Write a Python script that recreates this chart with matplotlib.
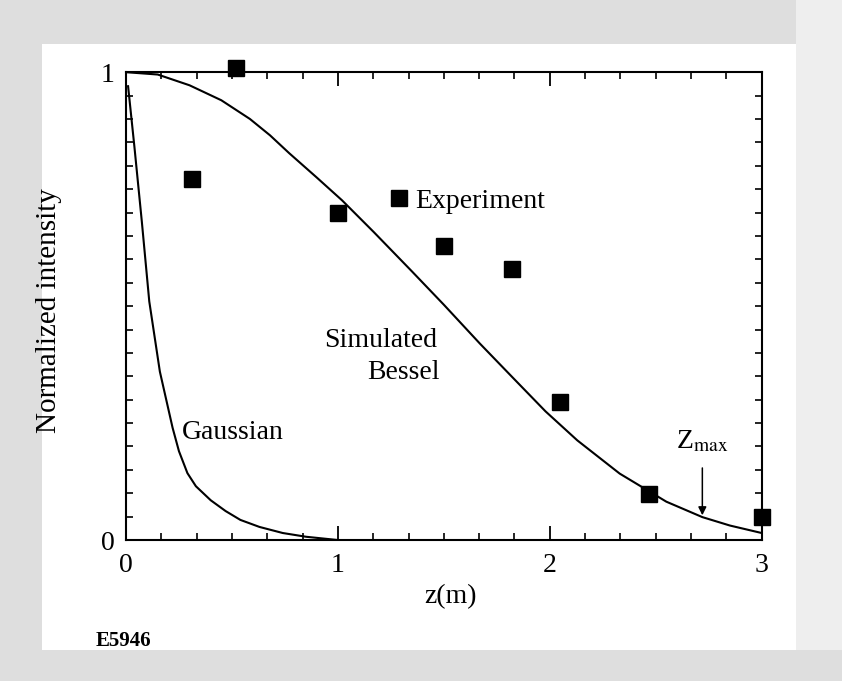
import matplotlib
matplotlib.use("Agg")
import matplotlib.pyplot as plt
from matplotlib.lines import Line2D
from matplotlib.patches import Rectangle
from matplotlib.ticker import FixedLocator, MultipleLocator

# --- data ---
bessel_z = [0.0, 0.15, 0.30, 0.45, 0.585, 0.68, 0.77, 0.90, 1.02, 1.17, 1.35, 1.50,
            1.67, 1.83, 1.98, 2.13, 2.33, 2.55, 2.72, 2.85, 3.0]
bessel_i = [1.0, 0.995, 0.972, 0.94, 0.90, 0.865, 0.827, 0.775, 0.726, 0.658, 0.574, 0.503,
            0.42, 0.345, 0.275, 0.213, 0.142, 0.082, 0.049, 0.031, 0.015]

gauss_z = [0.01, 0.04, 0.075, 0.11, 0.16, 0.22, 0.25, 0.29, 0.33, 0.40, 0.47, 0.54,
           0.63, 0.74, 0.85, 1.0]
gauss_i = [0.97, 0.84, 0.68, 0.51, 0.36, 0.24, 0.19, 0.143, 0.115, 0.085, 0.062, 0.043,
           0.028, 0.015, 0.007, 0.0]

exp_z = [0.31, 0.52, 1.0, 1.50, 1.82, 2.05, 2.47, 3.0]
exp_i = [0.771, 1.01, 0.70, 0.628, 0.579, 0.295, 0.098, 0.049]

x_major = [0, 1, 2, 3]
y_major = [0, 1]
zmax = 2.72

plt.rcParams["font.family"] = ["Liberation Serif", "DejaVu Serif"]
plt.rcParams["mathtext.fontset"] = "stix"

fig = plt.figure(figsize=(8.42, 6.81), dpi=100)

# scanned-page border
for (x0, y0, w, h, c) in [(0, 0.935, 1, 0.065, "#dedede"), (0, 0, 0.05, 1, "#dedede"),
                          (0.945, 0, 0.055, 1, "#eeeeee"), (0, 0, 1, 0.045, "#dedede")]:
    fig.patches.append(Rectangle((x0, y0), w, h, transform=fig.transFigure,
                                 facecolor=c, edgecolor="none", zorder=-1))

ax = fig.add_axes([0.1496, 0.207, 0.755, 0.687])
ax.set_xlim(0, 3)
ax.set_ylim(0, 1)

ax.plot(bessel_z, bessel_i, color="black", lw=1.5)
ax.plot(gauss_z, gauss_i, color="black", lw=1.5)
ax.plot(exp_z, exp_i, ls="none", marker="s", ms=12, color="black", clip_on=False, zorder=5)

for s in ax.spines.values():
    s.set_linewidth(1.5)

ax.xaxis.set_major_locator(FixedLocator(x_major))
ax.xaxis.set_minor_locator(MultipleLocator(1 / 6))
ax.yaxis.set_major_locator(FixedLocator(y_major))
ax.yaxis.set_minor_locator(MultipleLocator(0.05))
ax.tick_params(axis="x", which="major", direction="in", length=10, width=1.3,
               top=True, labelsize=20, pad=9)
ax.tick_params(axis="x", which="minor", direction="in", length=5, width=1.2, top=True)
ax.tick_params(axis="y", which="both", direction="in", length=5, width=1.2,
               right=True, labelsize=20, pad=8)

ax.set_xlabel("z(m)", fontsize=20)
ax.xaxis.set_label_coords(0.51, -0.095)
ax.set_ylabel("Normalized intensity", fontsize=21)
ax.yaxis.set_label_coords(-0.10, 0.49)

key = Line2D([], [], ls="none", marker="s", ms=12, color="black")
ax.legend([key], ["Experiment"], loc="center left", bbox_to_anchor=(1.248, 0.724),
          bbox_transform=ax.transData, frameon=False, fontsize=20,
          handlelength=0.6, handletextpad=0.3, borderpad=0, borderaxespad=0)

ax.text(1.47, 0.427, "Simulated", ha="right", va="center", fontsize=20)
ax.text(1.48, 0.359, "Bessel", ha="right", va="center", fontsize=20)
ax.text(0.265, 0.229, "Gaussian", ha="left", va="center", fontsize=20)

ax.annotate("", xy=(zmax, 0.047), xytext=(zmax, 0.16),
            arrowprops=dict(arrowstyle="-|>", color="black", lw=1.1, mutation_scale=12))
ax.text(zmax, 0.21, r"Z$_{\mathrm{max}}$", ha="center", va="center", fontsize=20)

fig.text(0.113, 0.052, "E5946", fontsize=15, fontweight="bold")

fig.savefig("out.png", dpi=100)
